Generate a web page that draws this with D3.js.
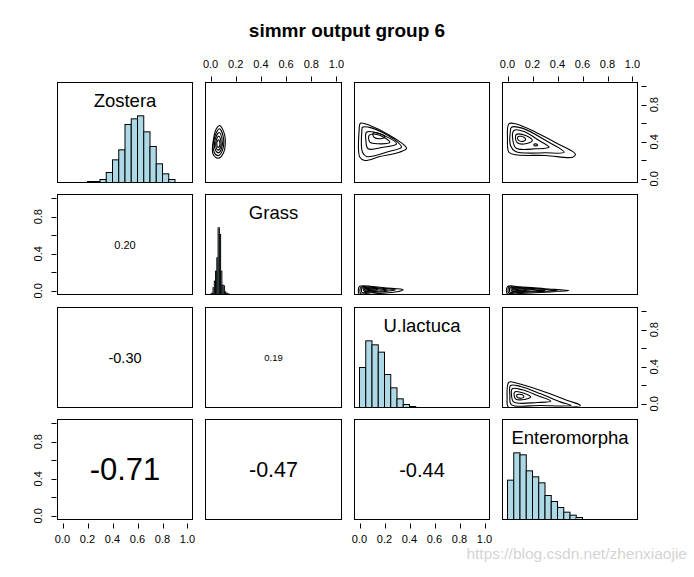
<!DOCTYPE html>
<html><head><meta charset="utf-8">
<script src="https://cdn.jsdelivr.net/npm/d3@7"></script>
<style>body{margin:0;background:#fff}svg{display:block;font-family:Arial,"Liberation Sans",sans-serif}</style>
</head><body><svg id="c" width="694" height="577"></svg>
<script>
// ---------------- data ----------------
const title = "simmr output group 6";
const variables = ["Zostera", "Grass", "U.lactuca", "Enteromorpha"];
const axisTicks = [0, 0.2, 0.4, 0.6, 0.8, 1.0];
const xTickLabels = ["0.0", "0.2", "0.4", "0.6", "0.8", "1.0"];
const yTickLabels = ["0.0", "", "0.4", "", "0.8", ""];

// histograms (diagonal): first break, bin width, relative frequency
const histStart = [0.20, 0.00, 0.00, 0.00];
const histWidth = [0.05, 0.01, 0.05, 0.05];
const zosteraFreq = [0.015, 0.015, 0.045, 0.15, 0.34, 0.49, 0.87, 0.955, 1.0, 0.76, 0.54, 0.28, 0.13, 0.045];
const grassFreq = [0.005, 0.02, 0.1, 0.2, 0.35, 0.55, 1.0, 0.9, 0.35, 0.14, 0.13, 0.04, 0.02, 0.01, 0.005];
const ulactucaFreq = [0.6, 1.0, 0.94, 0.83, 0.495, 0.295, 0.13, 0.045, 0.015];
const enteromorphaFreq = [0.59, 1.0, 0.97, 0.73, 0.64, 0.55, 0.36, 0.27, 0.18, 0.11, 0.065, 0.03];

// correlations (lower panels)
const corrRow = [1, 2, 2, 3, 3, 3];
const corrCol = [0, 0, 1, 0, 1, 2];
const corrValues = ["0.20", "-0.30", "0.19", "-0.71", "-0.47", "-0.44"];

// contour rings (upper panels), [x, y] in data units
const contourZosteraGrass = [
  [[0.073,0.576],[0.113,0.468],[0.105,0.287],[0.059,0.222],[0.019,0.27],[0.024,0.432],[0.046,0.54]],
  [[0.07,0.54],[0.1,0.46],[0.095,0.31],[0.06,0.25],[0.028,0.29],[0.03,0.44]],
  [[0.068,0.50],[0.09,0.44],[0.088,0.33],[0.06,0.28],[0.036,0.32],[0.038,0.43]],
  [[0.065,0.46],[0.082,0.41],[0.08,0.34],[0.06,0.31],[0.044,0.34],[0.046,0.42]],
  [[0.062,0.42],[0.074,0.39],[0.07,0.35],[0.058,0.34],[0.05,0.37],[0.052,0.40]]
];
const contourZosteraUlactuca = [
  [[0.008,0.60],[0.083,0.576],[0.243,0.468],[0.376,0.33],[0.32,0.287],[0.163,0.241],[0.043,0.198],[0.003,0.233],[-0.003,0.52]],
  [[0.024,0.557],[0.096,0.55],[0.27,0.432],[0.336,0.341],[0.243,0.298],[0.056,0.241],[0.024,0.287],[0.019,0.522]],
  [[0.056,0.503],[0.163,0.486],[0.296,0.378],[0.19,0.341],[0.069,0.324],[0.051,0.414]],
  [[0.077,0.468],[0.149,0.475],[0.243,0.395],[0.149,0.378],[0.083,0.395]],
  [[0.109,0.493],[0.163,0.486],[0.203,0.45],[0.163,0.432],[0.115,0.45]]
];
const contourZosteraEnteromorpha = [
  [[0.011,0.594],[0.064,0.594],[0.226,0.503],[0.387,0.389],[0.543,0.266],[0.521,0.233],[0.306,0.252],[0.064,0.259],[0.011,0.287],[0.0,0.432]],
  [[0.032,0.557],[0.118,0.547],[0.306,0.414],[0.454,0.287],[0.306,0.281],[0.064,0.295],[0.024,0.36],[0.022,0.503]],
  [[0.051,0.522],[0.131,0.511],[0.252,0.414],[0.333,0.341],[0.226,0.324],[0.07,0.33],[0.043,0.414]],
  [[0.07,0.478],[0.145,0.468],[0.199,0.414],[0.145,0.378],[0.078,0.389],[0.064,0.432]],
  [[0.086,0.457],[0.131,0.449],[0.145,0.421],[0.113,0.403],[0.083,0.424]],
  [[0.212,0.375],[0.238,0.372],[0.24,0.36],[0.214,0.358]]
];
const contourGrassUlactuca = [
  [[0.0,0.047],[0.1,0.046],[0.2,0.032],[0.35,0.012],[0.3,-0.01],[0.15,-0.03],[0.0,-0.045]],
  [[0.01,0.038],[0.1,0.037],[0.2,0.024],[0.29,0.01],[0.2,-0.008],[0.08,-0.022],[0.01,-0.03]],
  [[0.02,0.03],[0.1,0.029],[0.18,0.016],[0.23,0.008],[0.15,-0.004],[0.06,-0.014],[0.02,-0.018]],
  [[0.03,0.022],[0.09,0.021],[0.15,0.01],[0.1,0.0],[0.04,-0.006]],
  [[0.04,0.015],[0.08,0.014],[0.11,0.007],[0.07,0.002],[0.045,0.002]]
];
const contourGrassEnteromorpha = [
  [[0.0,0.046],[0.1,0.042],[0.3,0.022],[0.49,0.002],[0.3,-0.015],[0.1,-0.03],[0.0,-0.035]],
  [[0.01,0.038],[0.1,0.034],[0.28,0.016],[0.4,0.003],[0.25,-0.008],[0.08,-0.02],[0.01,-0.024]],
  [[0.02,0.03],[0.1,0.027],[0.22,0.012],[0.3,0.004],[0.18,-0.004],[0.06,-0.012],[0.02,-0.015]],
  [[0.03,0.022],[0.1,0.019],[0.18,0.008],[0.1,0.0],[0.035,-0.006]],
  [[0.04,0.015],[0.09,0.012],[0.12,0.006],[0.07,0.002],[0.045,0.002]]
];
const contourUlactucaEnteromorpha = [
  [[0.011,0.233],[0.078,0.222],[0.266,0.144],[0.481,0.036],[0.583,-0.018],[0.40,-0.043],[0.011,-0.043],[-0.003,0.071]],
  [[0.024,0.198],[0.105,0.187],[0.266,0.108],[0.427,0.018],[0.508,-0.018],[0.266,-0.018],[0.03,-0.008],[0.019,0.09]],
  [[0.038,0.162],[0.118,0.151],[0.239,0.09],[0.347,0.028],[0.239,0.014],[0.051,0.018],[0.032,0.09]],
  [[0.056,0.126],[0.131,0.115],[0.185,0.072],[0.118,0.043],[0.064,0.054]],
  [[0.078,0.1],[0.118,0.097],[0.131,0.072],[0.099,0.061],[0.075,0.076]]
];
const watermark = "https://blog.csdn.net/zhenxiaojie";

// ---------------- layout / style ----------------
const histFreqs = [zosteraFreq, grassFreq, ulactucaFreq, enteromorphaFreq];
const contours = {
  "0,1": contourZosteraGrass, "0,2": contourZosteraUlactuca, "0,3": contourZosteraEnteromorpha,
  "1,2": contourGrassUlactuca, "1,3": contourGrassEnteromorpha, "2,3": contourUlactucaEnteromorpha
};
const corrFont = [11, 14.5, 9.5, 31, 21.5, 20];
const W = 694, H = 577;
const gLeft = 57, gRight = 637, gTop = 82, gBottom = 519;
const gapX = 13, gapY = 12.3, n = 4;
const pw = (gRight - gLeft - gapX * (n - 1)) / n;
const ph = (gBottom - gTop - gapY * (n - 1)) / n;

const svg = d3.select("#c");
svg.append("rect").attr("width", W).attr("height", H).attr("fill", "#fff");
svg.append("text").attr("x", 347).attr("y", 37).attr("text-anchor", "middle")
  .attr("font-size", 19).attr("font-weight", "bold").text(title);

const defs = svg.append("defs");

for (let r = 0; r < n; r++) {
  for (let c = 0; c < n; c++) {
    const x0 = Math.round(gLeft + c * (pw + gapX)) + 0.5;
    const x1 = Math.round(gLeft + c * (pw + gapX) + pw) + 0.5;
    const y0 = Math.round(gTop + r * (ph + gapY)) + 0.5;
    const y1 = Math.round(gTop + r * (ph + gapY) + ph) + 0.5;
    const xs = d3.scaleLinear().domain([-0.04, 1.04]).range([x0, x1]);
    const ys = d3.scaleLinear().domain([-0.04, 1.04]).range([y1, y0]);
    const g = svg.append("g");
    const cid = `clip${r}${c}`;
    defs.append("clipPath").attr("id", cid).append("rect")
      .attr("x", x0).attr("y", y0).attr("width", x1 - x0).attr("height", y1 - y0);

    if (r === c) {
      const hy = d3.scaleLinear().domain([0, 1.5]).range([y1, y0]);
      const freq = histFreqs[r];
      g.selectAll("rect.bar").data(freq).enter().append("rect")
        .attr("x", (d, i) => xs(histStart[r] + i * histWidth[r]))
        .attr("width", (d, i) => xs(histStart[r] + (i + 1) * histWidth[r]) - xs(histStart[r] + i * histWidth[r]))
        .attr("y", d => hy(d)).attr("height", d => hy(0) - hy(d))
        .attr("fill", "#ADD8E6").attr("stroke", "#000").attr("stroke-width", 1);
      g.append("text").attr("x", (x0 + x1) / 2).attr("y", hy(1.23))
        .attr("text-anchor", "middle").attr("dominant-baseline", "central")
        .attr("font-size", 18.5).text(variables[r]);
    } else if (r < c) {
      const rings = contours[`${r},${c}`];
      const line = d3.line().x(d => xs(d[0])).y(d => ys(d[1])).curve(d3.curveCatmullRomClosed.alpha(0.5));
      g.append("g").attr("clip-path", `url(#${cid})`).selectAll("path").data(rings).enter()
        .append("path").attr("d", line).attr("fill", "none").attr("stroke", "#000").attr("stroke-width", 1.1);
    } else {
      const k = corrRow.findIndex((rr, i) => rr === r && corrCol[i] === c);
      if (k >= 0) {
        g.append("text").attr("x", xs(0.5)).attr("y", ys(0.5))
          .attr("text-anchor", "middle").attr("dominant-baseline", "central")
          .attr("font-size", corrFont[k]).text(corrValues[k]);
      }
    }
    g.append("rect").attr("x", x0).attr("y", y0).attr("width", x1 - x0).attr("height", y1 - y0)
      .attr("fill", "none").attr("stroke", "#000").attr("stroke-width", 1);

    // axes
    const fs = 11;
    if (r === 0 && c % 2 === 1) {
      g.selectAll("line.tt").data(axisTicks).enter().append("line")
        .attr("x1", d => Math.round(xs(d)) + 0.5).attr("x2", d => Math.round(xs(d)) + 0.5)
        .attr("y1", y0 - 6).attr("y2", y0 - 1).attr("stroke", "#000");
      g.selectAll("text.tt").data(axisTicks).enter().append("text")
        .attr("x", d => xs(d)).attr("y", y0 - 19).attr("text-anchor", "middle")
        .attr("dominant-baseline", "central").attr("font-size", fs).text((d, i) => xTickLabels[i]);
    }
    if (r === n - 1 && c % 2 === 0) {
      g.selectAll("line.bt").data(axisTicks).enter().append("line")
        .attr("x1", d => Math.round(xs(d)) + 0.5).attr("x2", d => Math.round(xs(d)) + 0.5)
        .attr("y1", y1 + 4).attr("y2", y1 + 9).attr("stroke", "#000");
      g.selectAll("text.bt").data(axisTicks).enter().append("text")
        .attr("x", d => xs(d)).attr("y", y1 + 19).attr("text-anchor", "middle")
        .attr("dominant-baseline", "central").attr("font-size", fs).text((d, i) => xTickLabels[i]);
    }
    if (c === 0 && r % 2 === 1) {
      g.selectAll("line.lt").data(axisTicks).enter().append("line")
        .attr("y1", d => Math.round(ys(d)) + 0.5).attr("y2", d => Math.round(ys(d)) + 0.5)
        .attr("x1", x0 - 6).attr("x2", x0 - 1).attr("stroke", "#000");
      g.selectAll("text.lt").data(axisTicks).enter().append("text")
        .attr("transform", d => `translate(${x0 - 20},${ys(d)}) rotate(-90)`)
        .attr("text-anchor", "middle").attr("dominant-baseline", "central")
        .attr("font-size", fs).text((d, i) => yTickLabels[i]);
    }
    if (c === n - 1 && r % 2 === 0) {
      g.selectAll("line.rt").data(axisTicks).enter().append("line")
        .attr("y1", d => Math.round(ys(d)) + 0.5).attr("y2", d => Math.round(ys(d)) + 0.5)
        .attr("x1", x1 + 4).attr("x2", x1 + 9).attr("stroke", "#000");
      g.selectAll("text.rt").data(axisTicks).enter().append("text")
        .attr("transform", d => `translate(${x1 + 16},${ys(d)}) rotate(-90)`)
        .attr("text-anchor", "middle").attr("dominant-baseline", "central")
        .attr("font-size", fs).text((d, i) => yTickLabels[i]);
    }
  }
}
svg.append("text").attr("x", 687).attr("y", 559).attr("text-anchor", "end")
  .attr("font-size", 15.5).attr("fill", "#c8c8c8").attr("fill-opacity", 0.8).text(watermark);
</script></body></html>
